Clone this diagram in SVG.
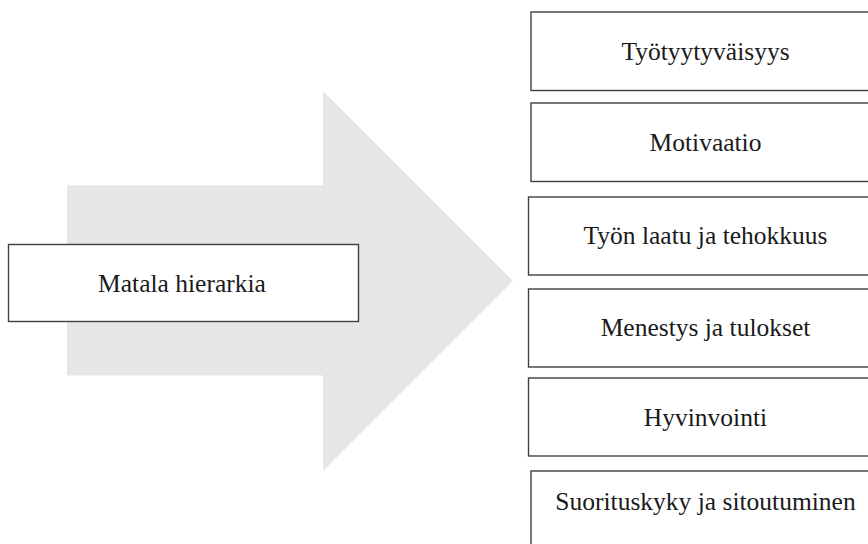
<svg xmlns="http://www.w3.org/2000/svg" width="868" height="544" viewBox="0 0 868 544">
<style>
.box{fill:#ffffff;stroke:#404040;stroke-width:1.4}
.lbl{font-family:"Liberation Serif","Times New Roman",serif;font-size:25.5px;fill:#1a1a1a;text-anchor:middle}
</style>
<rect width="868" height="544" fill="#ffffff"/>
<g id="connectors">
<path d="M67,185.5 H323 V91 L513,281 L323,471 V375.5 H67 Z" fill="#e6e6e6"/>
</g>
<g id="matala">
<rect class="box" x="8.5" y="244.5" width="350" height="77"/>
<text class="lbl" x="182" y="292">Matala hierarkia</text>
</g>
<g id="tyotyytyvaisyys">
<rect class="box" x="531" y="12" width="352" height="78.5"/>
<text class="lbl" x="705.5" y="60">Työtyytyväisyys</text>
</g>
<g id="motivaatio">
<rect class="box" x="531" y="103" width="352" height="78.5"/>
<text class="lbl" x="705.5" y="151">Motivaatio</text>
</g>
<g id="tyon-laatu">
<rect class="box" x="528.5" y="197" width="352" height="78"/>
<text class="lbl" x="705.5" y="244">Työn laatu ja tehokkuus</text>
</g>
<g id="menestys">
<rect class="box" x="528.5" y="289" width="352" height="78"/>
<text class="lbl" x="705.5" y="336">Menestys ja tulokset</text>
</g>
<g id="hyvinvointi">
<rect class="box" x="528.5" y="378" width="352" height="78"/>
<text class="lbl" x="705.5" y="426">Hyvinvointi</text>
</g>
<g id="suorituskyky">
<rect class="box" x="531" y="471" width="352" height="78"/>
<text class="lbl" x="705.5" y="510">Suorituskyky ja sitoutuminen</text>
</g>
</svg>
